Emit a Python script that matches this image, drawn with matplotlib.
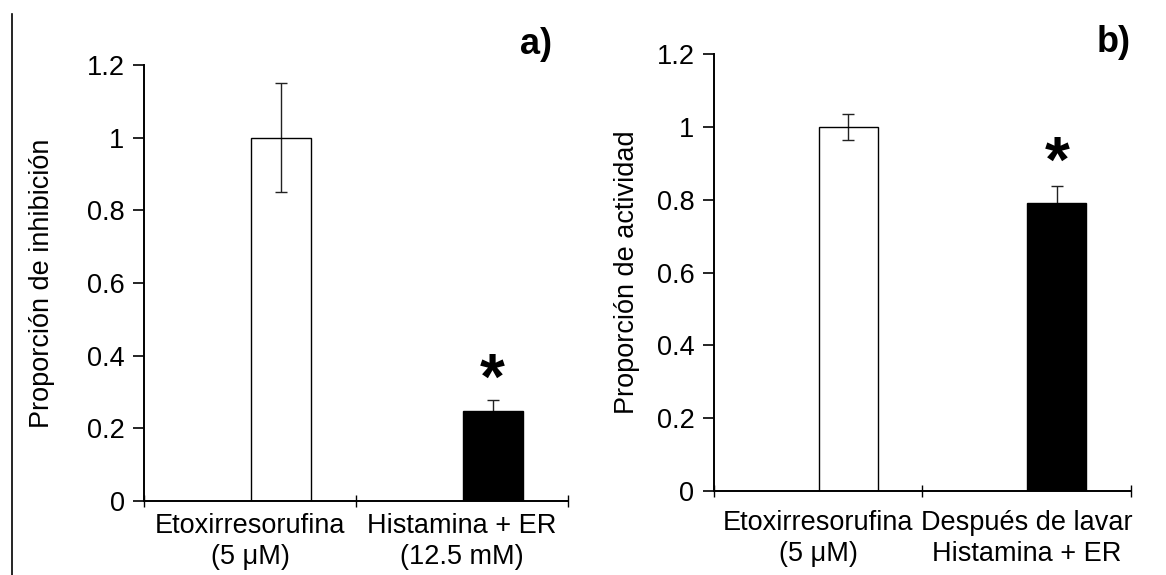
import matplotlib.pyplot as plt
from matplotlib.lines import Line2D

plt.rcParams['font.family'] = ['Liberation Sans', 'DejaVu Sans']

# === Datos ===
cat_a = ["Etoxirresorufina\n(5 \u03bcM)", "Histamina + ER\n(12.5 mM)"]
val_a = [1.0, 0.248]
err_a = [0.15, 0.03]
star_a = 0.328

cat_b = ["Etoxirresorufina\n(5 \u03bcM)", "Despu\u00e9s de lavar\nHistamina + ER"]
val_b = [1.0, 0.79]
err_b = [0.035, 0.047]
star_b = 0.895

fs = 19.5

fig = plt.figure(figsize=(11.66, 5.75), dpi=100)
ax1 = fig.add_axes([0.1235, 0.1287, 0.3636, 0.7583])
ax2 = fig.add_axes([0.6123, 0.146, 0.3576, 0.760])

# linea a la izquierda (borde)
fig.add_artist(Line2D([12 / 1166, 12 / 1166], [0, 1 - 14 / 575],
                      color='black', lw=1.2))


def panel(ax, cats, vals, errs, star, ylabel, letra, letra_pos, ylab_x, pad_x):
    off = 0.145
    w = 0.283
    x = [i + off for i in range(len(vals))]
    ax.errorbar(x, vals, yerr=errs, fmt='none', ecolor='#222222',
                elinewidth=1.0, capsize=4, capthick=1.0, zorder=2)
    ax.bar(x[1:], vals[1:], width=w, color='black', edgecolor='black',
           linewidth=1.0, zorder=3)
    ax.bar(x[:1], vals[:1], width=w, facecolor='none', edgecolor='black',
           linewidth=1.0, zorder=3)
    ax.text(x[1], star, '*', ha='center', va='center', fontsize=46,
            fontweight='bold')
    ax.set_xlim(-0.5, 1.5)
    ax.set_ylim(0, 1.2)
    ax.set_yticks([0, 0.2, 0.4, 0.6, 0.8, 1.0, 1.2])
    ax.set_yticklabels(['0', '0.2', '0.4', '0.6', '0.8', '1', '1.2'])
    ax.set_xticks([-0.5, 0.5, 1.5])
    ax.set_xticklabels([])
    ax.set_xticks([0, 1], minor=True)
    ax.set_xticklabels(cats, minor=True, fontsize=fs, linespacing=1.22)
    ax.tick_params(axis='x', which='minor', length=0, pad=pad_x)
    ax.tick_params(axis='x', which='major', direction='inout', length=8,
                   width=1.0)
    ax.tick_params(axis='y', direction='out', length=8, width=1.2,
                   labelsize=fs, pad=6)
    for s in ['top', 'right']:
        ax.spines[s].set_visible(False)
    ax.spines['left'].set_linewidth(1.4)
    ax.spines['bottom'].set_linewidth(1.4)
    ax.set_ylabel(ylabel, fontsize=fs)
    ax.yaxis.set_label_coords(ylab_x, 0.5)
    ax.text(letra_pos[0], letra_pos[1], letra, transform=ax.transAxes,
            ha='right', va='center', fontsize=26, fontweight='bold')


panel(ax1, cat_a, val_a, err_a, star_a, "Proporci\u00f3n de inhibici\u00f3n",
      "a)", (0.963, 1.046), -0.21, 9)
panel(ax2, cat_b, val_b, err_b, star_b, "Proporci\u00f3n de actividad",
      "b)", (1.0, 1.027), -0.177, 14)

plt.savefig("out.png", dpi=100)
